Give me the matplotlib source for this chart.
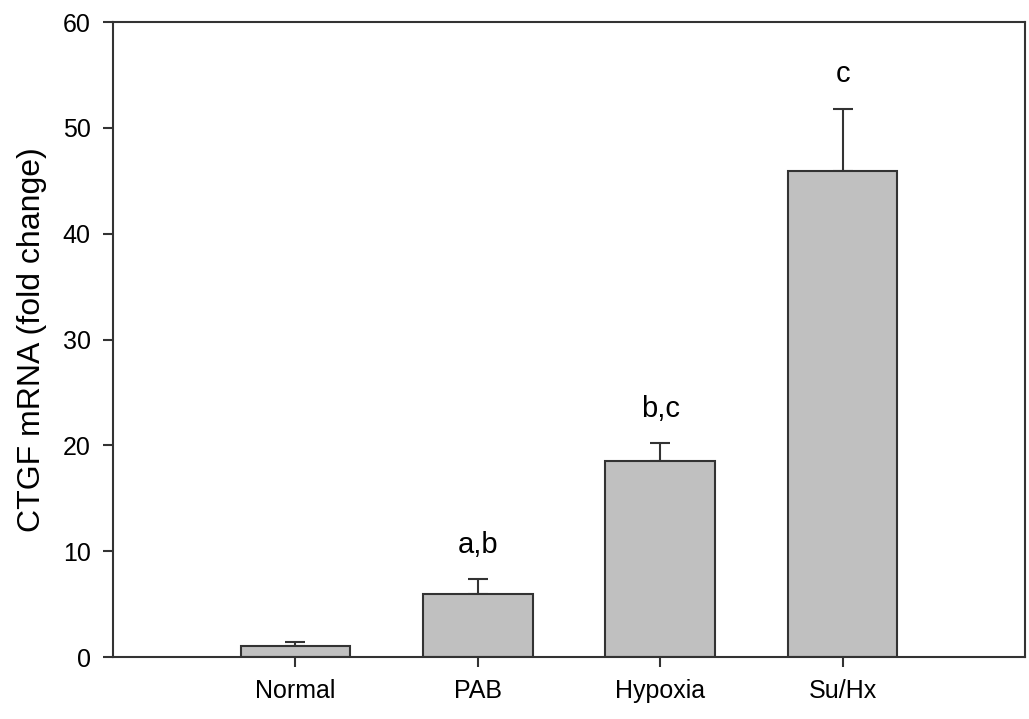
import matplotlib
matplotlib.use("Agg")
import matplotlib.pyplot as plt

plt.rcParams["font.family"] = ["Liberation Sans", "DejaVu Sans"]

groups = ["Normal", "PAB", "Hypoxia", "Su/Hx"]
fold_change = [1.0, 6.0, 18.55, 45.95]
sem = [0.4, 1.35, 1.65, 5.85]
letters = ["", "a,b", "b,c", "c"]

positions = list(range(1, len(groups) + 1))

fig = plt.figure(figsize=(10.29, 7.19), dpi=100)
ax = fig.add_axes([0.1098, 0.0862, 0.8863, 0.8832])

ax.bar(positions, fold_change, width=0.6, color="#c0c0c0",
       edgecolor="#333333", linewidth=1.5, zorder=2)
ax.errorbar(positions, fold_change, yerr=[[0] * len(sem), sem],
            fmt="none", ecolor="#333333", elinewidth=1.5,
            capsize=7, capthick=1.5, zorder=1)

# significance letters above the error bars
for x, v, e, txt in zip(positions, fold_change, sem, letters):
    if txt:
        ax.text(x, v + e + 2.5, txt, ha="center", va="baseline", fontsize=21)

ax.set_xlim(0, 5)
ax.set_ylim(0, 60)
ax.set_xticks(positions)
ax.set_xticklabels(groups)
ax.set_yticks(range(0, 61, 10))
ax.set_ylabel("CTGF mRNA (fold change)", fontsize=23, labelpad=11)

ax.tick_params(axis="both", direction="out", labelsize=18, width=1.5,
               color="#333333", length=7, pad=9)
for s in ax.spines.values():
    s.set_linewidth(1.5)
    s.set_color("#333333")

fig.savefig("out.png", dpi=100)
